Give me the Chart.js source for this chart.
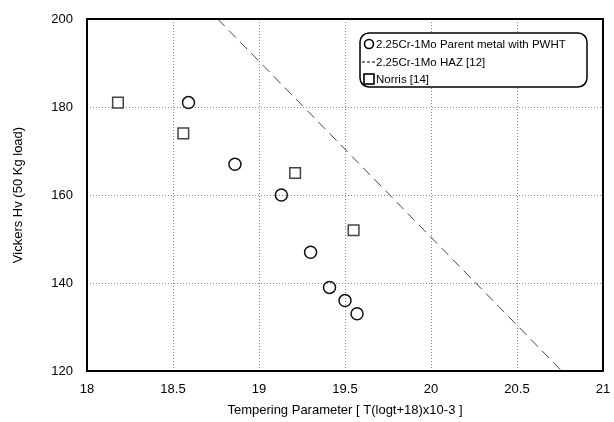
<!DOCTYPE html>
<html>
<head>
<meta charset="utf-8">
<script src="https://cdn.jsdelivr.net/npm/chart.js@4"></script>
<style>
  html, body { margin: 0; padding: 0; background: #fff; }
  #wrap { width: 614px; height: 422px; }
</style>
</head>
<body>
<div id="wrap"><canvas id="myChart" width="614" height="422"></canvas></div>
<script>
// data
const parentX = [18.59, 18.86, 19.13, 19.30, 19.41, 19.50, 19.57];
const parentY = [181, 167, 160, 147, 139, 136, 133];
const hazX = [18.76, 20.76];
const hazY = [200, 120];
const norrisX = [18.18, 18.56, 19.21, 19.55];
const norrisY = [181, 174, 165, 152];
const xTicks = [18, 18.5, 19, 19.5, 20, 20.5, 21];
const yTicks = [120, 140, 160, 180, 200];
const seriesLabels = ['2.25Cr-1Mo Parent metal with PWHT', '2.25Cr-1Mo HAZ [12]', 'Norris [14]'];

const pts = (xs, ys) => xs.map((x, i) => ({ x: x, y: ys[i] }));
const font = 'Liberation Sans, Arial, sans-serif';

// frame round the plot area + legend box inside it
const framePlugin = {
    id: 'frame',
    afterDraw(chart) {
        const ctx = chart.ctx;
        const a = chart.chartArea;
        ctx.save();
        ctx.strokeStyle = '#000';
        ctx.lineWidth = 2;
        ctx.strokeRect(a.left, a.top, a.right - a.left, a.bottom - a.top);

        // legend
        const bx = 360, by = 33, bw = 227, bh = 54;
        ctx.fillStyle = '#fff';
        ctx.lineWidth = 1.5;
        ctx.beginPath();
        ctx.roundRect(bx, by, bw, bh, 9);
        ctx.fill();
        ctx.stroke();

        ctx.font = '11.5px ' + font;
        ctx.fillStyle = '#000';
        ctx.textBaseline = 'middle';
        const rows = [44, 62, 79];
        // circle
        ctx.lineWidth = 1.6;
        ctx.beginPath();
        ctx.arc(369, rows[0], 4.5, 0, Math.PI * 2);
        ctx.stroke();
        // dashed line
        ctx.lineWidth = 1;
        ctx.setLineDash([3, 2]);
        ctx.beginPath();
        ctx.moveTo(362, rows[1]);
        ctx.lineTo(376, rows[1]);
        ctx.stroke();
        ctx.setLineDash([]);
        // square
        ctx.lineWidth = 1.6;
        ctx.strokeRect(364, rows[2] - 5, 10, 10);
        seriesLabels.forEach((t, i) => ctx.fillText(t, 376, rows[i] + 1));
        ctx.restore();
    }
};

const ctx = document.getElementById('myChart').getContext('2d');
const myChart = new Chart(ctx, {
    type: 'scatter',
    data: {
        datasets: [{
            label: seriesLabels[0],
            data: pts(parentX, parentY),
            pointStyle: 'circle',
            pointRadius: 6,
            pointBorderWidth: 1.5,
            borderColor: '#111',
            backgroundColor: 'rgba(0,0,0,0)'
        }, {
            label: seriesLabels[1],
            data: pts(hazX, hazY),
            showLine: true,
            pointRadius: 0,
            borderColor: '#444',
            borderWidth: 1,
            borderDash: [10, 6]
        }, {
            label: seriesLabels[2],
            data: pts(norrisX, norrisY),
            pointStyle: 'rect',
            pointRadius: 7.5,
            pointBorderWidth: 1.5,
            borderColor: '#444',
            backgroundColor: 'rgba(0,0,0,0)'
        }]
    },
    options: {
        responsive: false,
        animation: false,
        layout: { padding: { top: 19, right: 11, left: 0, bottom: 0 } },
        plugins: {
            legend: { display: false },
            tooltip: { enabled: false }
        },
        scales: {
            x: {
                type: 'linear',
                min: 18, max: 21,
                afterBuildTicks: (s) => { s.ticks = xTicks.map(v => ({ value: v })); },
                afterFit: (s) => { s.height = 51; s.paddingLeft = 0; s.paddingRight = 0; },
                grid: { color: '#888', drawTicks: false },
                border: { display: false, dash: [1, 2] },
                ticks: {
                    color: '#000', padding: 11, maxRotation: 0,
                    font: { family: font, size: 13 },
                    callback: (v) => String(v)
                },
                title: {
                    display: true,
                    text: 'Tempering Parameter [ T(logt+18)x10-3 ]',
                    color: '#000',
                    font: { family: font, size: 13 },
                    padding: { top: 3 }
                }
            },
            y: {
                type: 'linear',
                min: 120, max: 200,
                afterBuildTicks: (s) => { s.ticks = yTicks.map(v => ({ value: v })); },
                afterFit: (s) => { s.width = 87; s.paddingTop = 0; s.paddingBottom = 0; },
                grid: { color: '#888', drawTicks: false },
                border: { display: false, dash: [1, 2] },
                ticks: { color: '#000', padding: 14, font: { family: font, size: 13 } },
                title: {
                    display: true,
                    text: 'Vickers Hv (50 Kg load)',
                    color: '#000',
                    font: { family: font, size: 13 },
                    padding: { top: 11, bottom: 0 }
                }
            }
        }
    },
    plugins: [framePlugin]
});
</script>
</body>
</html>
